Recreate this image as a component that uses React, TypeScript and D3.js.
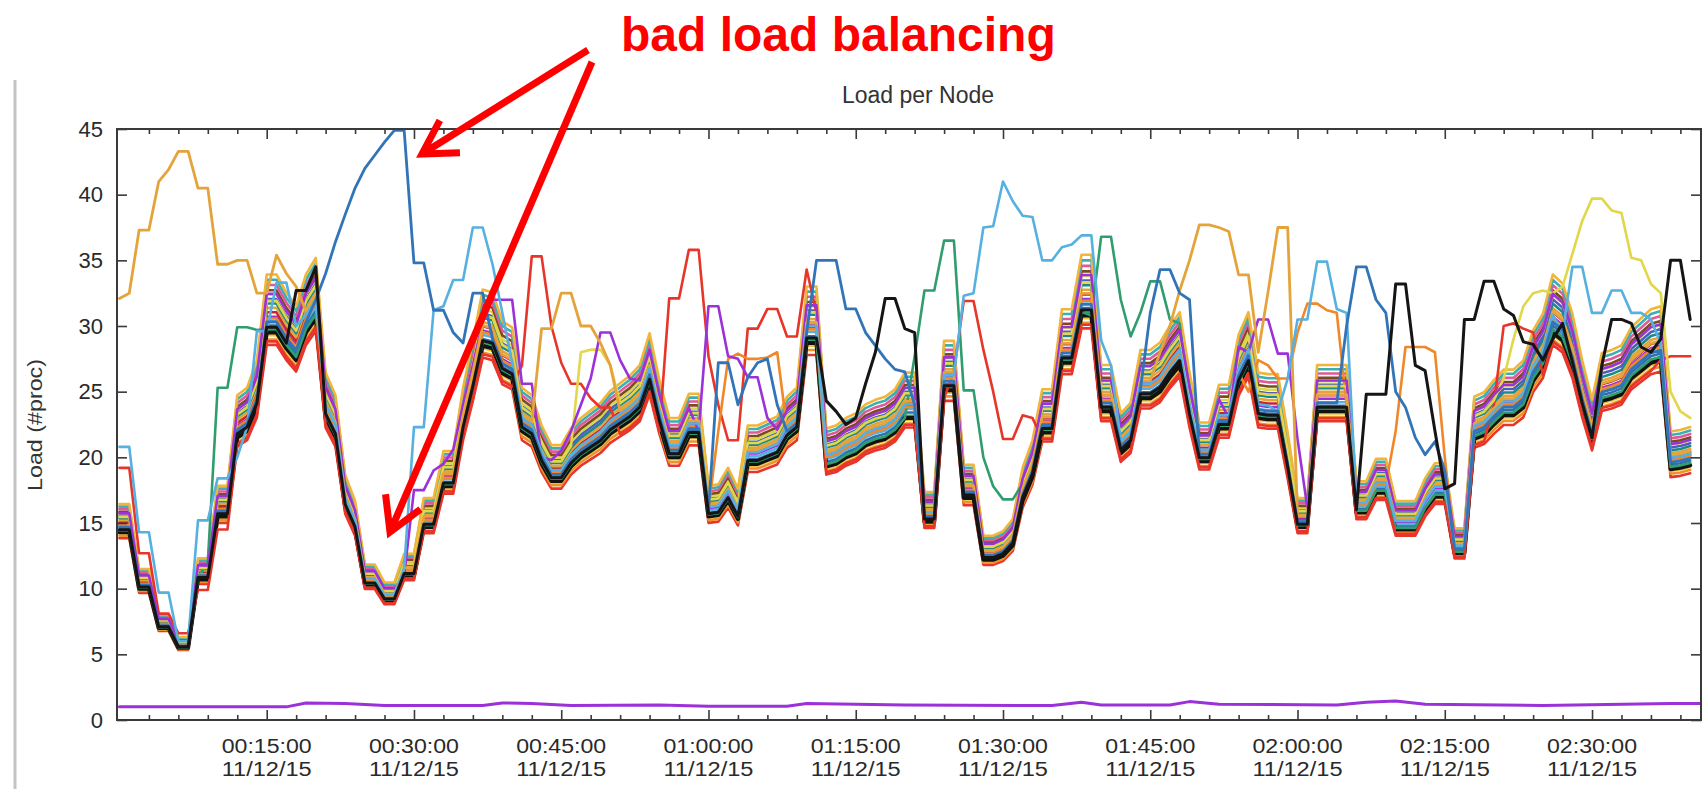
import React, { useEffect, useRef } from 'react'
import * as d3 from 'd3'

const width = 1702
const height = 789
const plot = { left: 117, right: 1701, top: 129, bottom: 720 }
const fontFamily = '"Liberation Sans", Arial, Helvetica, sans-serif'

const startTime = new Date(2015, 10, 12, 0, 0, 0)
const minute = (m: number) => new Date(startTime.getTime() + m * 60000)

// load of the busy bundle (one sample per minute, 00:00 .. 02:40)
const bundleLoad = [
  14.3, 14.3, 10, 10, 7, 7, 5.5, 5.5, 10.7, 10.7,
  15.5, 15.5, 21.5, 22, 23.8, 29.5, 29.5, 28.3, 27.4, 29.5,
  30.6, 23, 21.5, 16.2, 14.5, 10.3, 10.3, 9.1, 9.1, 11,
  11, 14.7, 14.7, 17.8, 17.8, 22, 25.1, 28.5, 28.3, 26.4,
  26, 22, 21.5, 19.5, 18.2, 18.2, 19.3, 20, 20.5, 21,
  21.8, 22.3, 22.8, 23.5, 25.6, 22.5, 20, 20, 21.6, 21.6,
  15.5, 15.6, 16.7, 15.3, 19.5, 19.5, 19.8, 20.1, 21.4, 22,
  28.7, 28.7, 19.3, 19.5, 20, 20.3, 20.9, 21.2, 21.4, 21.9,
  23, 23, 15.1, 15.1, 25.1, 25.1, 16.9, 16.9, 12.2, 12.2,
  12.5, 13.3, 16.7, 18.5, 21.9, 21.9, 27.2, 27.2, 30.8, 30.8,
  23.5, 23.5, 20.3, 21, 24.5, 24.5, 25, 26.1, 27, 23,
  19.7, 19.7, 22.2, 22.2, 25.5, 27, 23, 22.9, 22.9, 19,
  14.7, 14.7, 23.5, 23.5, 23.5, 23.5, 15.8, 15.8, 17.3, 17.3,
  14.5, 14.5, 14.5, 16, 17, 17, 12.7, 12.7, 21.4, 21.7,
  22.5, 23.2, 23.2, 23.8, 25.8, 26.9, 29.5, 28.9, 26.9, 23.8,
  21.2, 24.3, 24.5, 24.8, 26, 26.6, 27.2, 27.4, 19.1, 19.2,
  19.4,
]

// nodes that stay inside the bundle
const clusterColors = [
  '#e8352a', '#f0902a', '#e6c33c', '#2f9d6f', '#2f6fb0', '#56b0e0', '#9b31d8', '#c7262c',
  '#e5a43b', '#1d8a8a', '#4a5fc0', '#d8d84a', '#7c4a1e', '#e05a9a', '#3bb0b0', '#f2b43a',
]
const clusterOffsets = [-0.7, -0.4, -0.15, 0.15, 0.4, 0.65, 0.9, 1.15, 1.4, 1.65, 1.9, 2.15, 2.4, 2.7, 3.0, 3.3]

// nodes that leave the bundle: [start minute, values per minute]
const goldExcursions: [number, number[]][] = [
  [0, [32.1, 32.5, 37.3, 37.3, 41, 41.9, 43.3, 43.3, 40.5, 40.5, 34.7, 34.7, 35, 35, 32.5, 32.5, 35.4, 34, 33]],
  [43, [29.8, 29.8, 32.5, 32.5, 30, 30, 28.7, 27]],
  [106, [28, 30, 32.7, 35, 37.7, 37.7, 37.5, 37.2, 33.9, 33.9, 28, 32.6, 37.5, 37.5, 15.5]],
]
const darkBlueExcursions: [number, number[]][] = [
  [20, [32, 34, 36.4, 38.5, 40.5, 42, 43, 44, 44.9, 44.9, 34.8, 34.8, 31.2, 31.2, 29.5, 28.7, 32.5, 32.5, 29]],
  [61, [27.2, 27.2, 24, 26.1, 27.2, 27.5, 24]],
  [71, [35, 35, 35, 31.3, 31.3, 29.5, 28.5, 27.5, 26.7, 26.5, 24]],
  [105, [31, 34.3, 34.3, 32.5, 32]],
  [125, [30, 34.5, 34.5, 32, 31, 25, 23.8, 21.5, 20.2, 21.2, 19]],
]
const lightBlueExcursions: [number, number[]][] = [
  [0, [20.8, 20.8, 14.3, 14.3, 9.7, 9.7, 6, 6, 15.2, 15.2, 18.4, 18.4, 20, 22.3, 29.6, 29.6, 33.3, 33.3, 30]],
  [29, [11.5, 22.3, 22.3, 31.2, 31.5, 33.5, 33.5, 37.5, 37.5, 34.7, 31]],
  [86, [32.3, 32.5, 37.5, 37.6, 41, 39.5, 38.4, 38.3, 35, 35, 36, 36.2, 36.9, 36.9, 28.9, 27]],
  [118, [23.5, 26, 30.5, 30.5, 34.9, 34.9, 31.3, 31]],
  [147, [29.5, 34.5, 34.5, 31, 31, 32.7, 32.7, 31, 31, 30.5]],
]
const greenExcursions: [number, number[]][] = [
  [9, [12, 25.3, 25.3, 29.9, 29.9, 29.7]],
  [80, [23, 27.7, 32.7, 32.7, 36.5, 36.5, 25.1, 25.1, 20, 17.8, 16.8, 16.8, 18, 20]],
  [99, [30.8, 36.8, 36.8, 32, 29.2, 31, 33.4, 33.4, 30.5, 30.2]],
]
const redExcursions: [number, number[]][] = [
  [0, [19.2, 19.2, 12.7, 12.7, 8.1, 8.1, 6.6, 6.6, 9.9, 9.9, 14.5, 14.5]],
  [41, [27, 35.3, 35.3, 30, 27.2, 25.6, 25.6, 24.5, 23.8, 23.8]],
  [56, [32.1, 32.1, 35.8, 35.8, 27.7, 24, 21.3, 21.3, 29.8, 29.8, 31.3, 31.3, 29.2, 29.2, 34.3, 31]],
  [85, [26.5, 31.9, 31.9, 28.2, 25, 21.4, 21.4, 23.2, 23]],
  [140, [24, 30, 30.2, 29.8, 29.5]],
  [157, [27.4, 27.7, 27.7, 27.7]],
]
const purpleExcursions: [number, number[]][] = [
  [29, [11, 17.5, 17.5, 19, 19.5, 20.6, 24, 27, 30.3, 32, 32, 32, 25.6, 25.6, 20, 19.8, 20.5, 22, 24, 26, 29.5, 29.5, 27.4, 26]],
  [59, [22, 31.5, 31.5, 27.7, 27.5, 26.1, 26.1, 23]],
  [113, [23, 28.4, 28, 30.5, 30.5, 27.9, 27.9, 21.4]],
]
const yellowExcursions: [number, number[]][] = [
  [47, [28, 28.2, 28.2, 27]],
  [141, [26, 29, 31.5, 32.5, 32.7, 32.5, 33, 35.5, 38, 39.7, 39.7, 38.8, 38.6, 35.2, 35, 33.2, 32.5, 25, 23.5, 23]],
]
const thinBlackExcursions: [number, number[]][] = [
  [18, [32.7, 32.7, 34.5]],
  [72, [24.3, 23.5, 22.5, 23, 25.6, 28, 32.1, 32.1, 29.8, 29.5]],
  [127, [24.8, 24.8, 24.8, 33.2, 33.2, 27, 26.6, 22, 17.6, 18, 30.5, 30.5, 33.4, 33.4, 31.3, 30.8, 28.8, 28.6, 27.4, 29, 30.2]],
  [151, [27, 30.5, 30.5, 30.2, 28.4, 28, 29, 35, 35, 30.5]],
]
const orangeExcursions: [number, number[]][] = [
  [61, [22, 27.5, 27.9, 27.5, 27.5, 27.6, 28]],
  [115, [25, 27.4, 27, 26, 26, 29.5, 31.7, 31.7, 31.2, 31, 24]],
  [130, [22, 28.4, 28.4, 28.4, 28, 20]],
]

const outliers = [
  { color: '#2f9d6f', offset: 0.2, width: 2.6, excursions: greenExcursions },
  { color: '#e8352a', offset: -0.5, width: 2.6, excursions: redExcursions },
  { color: '#f0882a', offset: 0.8, width: 2.6, excursions: orangeExcursions },
  { color: '#e2d64a', offset: 1.8, width: 2.6, excursions: yellowExcursions },
  { color: '#9b31d8', offset: 2.2, width: 2.6, excursions: purpleExcursions },
  { color: '#e5a43b', offset: 1.2, width: 2.8, excursions: goldExcursions },
  { color: '#56b0e0', offset: 1.0, width: 2.6, excursions: lightBlueExcursions },
  { color: '#3274b8', offset: 0.6, width: 2.8, excursions: darkBlueExcursions },
  { color: '#151515', offset: 0.3, width: 3, excursions: thinBlackExcursions },
]

// idle node, [minute, load]
const idleNodeLoad: [number, number][] = [
  [0, 1.0], [17, 1.0], [19, 1.3], [23, 1.25], [27, 1.1], [37, 1.1], [39, 1.3], [42, 1.25],
  [46, 1.1], [55, 1.15], [60, 1.05], [68, 1.05], [70, 1.25], [80, 1.15], [95, 1.1], [98, 1.35],
  [100, 1.15], [107, 1.15], [109, 1.4], [112, 1.2], [124, 1.15], [127, 1.35], [130, 1.45],
  [133, 1.2], [145, 1.1], [158, 1.25], [161, 1.25],
]

const yTicks = [0, 5, 10, 15, 20, 25, 30, 35, 40, 45]
const majorMinutes = [15, 30, 45, 60, 75, 90, 105, 120, 135, 150]
const minorMinutes = d3.range(3, 162, 3).filter(m => m % 15 !== 0)

function buildSeries(offset: number, excursions: [number, number[]][]) {
  const vals = bundleLoad.map(v => v + (offset * v) / 22)
  excursions.forEach(([start, values]) => {
    values.forEach((v, k) => {
      vals[start + k] = v
    })
  })
  return vals
}

export default function App() {
  const ref = useRef<SVGSVGElement>(null)

  useEffect(() => {
    const svg = d3.select(ref.current)
    svg.selectAll('*').remove()

    const x = d3.scaleTime().domain([minute(-0.25), minute(161.1)]).range([plot.left, plot.right])
    const y = d3.scaleLinear().domain([0, 45]).range([plot.bottom, plot.top])

    svg.append('rect').attr('width', width).attr('height', height).attr('fill', '#ffffff')
    svg.append('line')
      .attr('x1', 15).attr('x2', 15).attr('y1', 80).attr('y2', height)
      .attr('stroke', '#c4c4c4').attr('stroke-width', 3)

    svg.append('defs').append('clipPath').attr('id', 'plotClip')
      .append('rect')
      .attr('x', plot.left).attr('y', plot.top - 4)
      .attr('width', plot.right - plot.left).attr('height', plot.bottom - plot.top + 4)

    const lines = svg.append('g').attr('clip-path', 'url(#plotClip)')
      .attr('fill', 'none').attr('stroke-linejoin', 'round').attr('stroke-linecap', 'round')

    const line = d3.line<number>()
      .x((d, i) => x(minute(i)))
      .y(d => y(d))

    clusterColors.forEach((c, i) => {
      lines.append('path')
        .attr('d', line(buildSeries(clusterOffsets[i], [])))
        .attr('stroke', c).attr('stroke-width', 2.6)
    })

    // thick black node at the bottom of the bundle
    lines.append('path')
      .attr('d', line(bundleLoad))
      .attr('stroke', '#111').attr('stroke-width', 4)

    outliers.forEach(o => {
      lines.append('path')
        .attr('d', line(buildSeries(o.offset, o.excursions)))
        .attr('stroke', o.color).attr('stroke-width', o.width)
    })

    const idleLine = d3.line<[number, number]>()
      .x(d => x(minute(d[0])))
      .y(d => y(d[1]))
    lines.append('path')
      .attr('d', idleLine(idleNodeLoad))
      .attr('stroke', '#9b31d8').attr('stroke-width', 3)

    // frame
    svg.append('rect')
      .attr('x', plot.left).attr('y', plot.top)
      .attr('width', plot.right - plot.left).attr('height', plot.bottom - plot.top)
      .attr('fill', 'none').attr('stroke', '#3a3a3a').attr('stroke-width', 2)

    const tickColor = '#3a3a3a'
    const styleAxis = (g: any) => {
      g.select('.domain').remove()
      g.selectAll('line').attr('stroke', tickColor).attr('stroke-width', 1.6)
    }

    // y axes
    const yAxisLeft = svg.append('g').attr('transform', `translate(${plot.left},0)`)
      .call(d3.axisLeft(y).tickValues(yTicks).tickSize(-10).tickPadding(14))
    styleAxis(yAxisLeft)
    yAxisLeft.selectAll('text')
      .attr('font-family', fontFamily).attr('font-size', 22).attr('fill', '#2a2a2a')

    const yAxisRight = svg.append('g').attr('transform', `translate(${plot.right},0)`)
      .call(d3.axisRight(y).tickValues(yTicks).tickSize(-10).tickFormat(() => ''))
    styleAxis(yAxisRight)

    // x axes, major and minor ticks on bottom and top
    const majorDates = majorMinutes.map(minute)
    const minorDates = minorMinutes.map(minute)
    const xb = svg.append('g').attr('transform', `translate(0,${plot.bottom})`)
      .call(d3.axisBottom(x).tickValues(majorDates).tickSize(-10).tickFormat(() => ''))
    styleAxis(xb)
    const xbm = svg.append('g').attr('transform', `translate(0,${plot.bottom})`)
      .call(d3.axisBottom(x).tickValues(minorDates).tickSize(-5).tickFormat(() => ''))
    styleAxis(xbm)
    const xt = svg.append('g').attr('transform', `translate(0,${plot.top})`)
      .call(d3.axisTop(x).tickValues(majorDates).tickSize(-10).tickFormat(() => ''))
    styleAxis(xt)
    const xtm = svg.append('g').attr('transform', `translate(0,${plot.top})`)
      .call(d3.axisTop(x).tickValues(minorDates).tickSize(-5).tickFormat(() => ''))
    styleAxis(xtm)

    const fmtTime = d3.timeFormat('%H:%M:%S')
    const fmtDate = d3.timeFormat('%m/%d/%y')
    const labels = svg.append('g')
      .attr('font-family', fontFamily).attr('font-size', 20).attr('fill', '#2a2a2a')
      .attr('text-anchor', 'middle')
    majorDates.forEach(d => {
      labels.append('text').attr('x', x(d)).attr('y', 753)
        .attr('textLength', 90).attr('lengthAdjust', 'spacingAndGlyphs')
        .text(fmtTime(d))
      labels.append('text').attr('x', x(d)).attr('y', 776)
        .attr('textLength', 90).attr('lengthAdjust', 'spacingAndGlyphs')
        .text(fmtDate(d))
    })

    // titles
    svg.append('text')
      .attr('x', 918).attr('y', 103).attr('text-anchor', 'middle')
      .attr('font-family', fontFamily).attr('font-size', 23).attr('fill', '#333')
      .text('Load per Node')

    svg.append('text')
      .attr('transform', 'translate(42,425) rotate(-90)')
      .attr('text-anchor', 'middle')
      .attr('font-family', fontFamily).attr('font-size', 21).attr('fill', '#333')
      .attr('textLength', 132).attr('lengthAdjust', 'spacingAndGlyphs')
      .text('Load (#proc)')

    // annotation
    svg.append('text')
      .attr('x', 621).attr('y', 51)
      .attr('font-family', fontFamily).attr('font-weight', 'bold').attr('font-size', 48)
      .attr('fill', '#ff0000')
      .text('bad load balancing')

    const arrows = [
      { from: [588, 50], to: [422, 154] },
      { from: [592, 62], to: [390, 532] },
    ]
    const ann = svg.append('g').attr('stroke', '#ff0000').attr('stroke-width', 7).attr('fill', 'none')
    arrows.forEach(a => {
      const [x1, y1] = a.from
      const [x2, y2] = a.to
      const len = Math.hypot(x2 - x1, y2 - y1)
      const ux = (x2 - x1) / len
      const uy = (y2 - y1) / len
      const wing = 38
      const ang = Math.PI / 6
      const w1 = [x2 - wing * (ux * Math.cos(ang) - uy * Math.sin(ang)), y2 - wing * (ux * Math.sin(ang) + uy * Math.cos(ang))]
      const w2 = [x2 - wing * (ux * Math.cos(-ang) - uy * Math.sin(-ang)), y2 - wing * (ux * Math.sin(-ang) + uy * Math.cos(-ang))]
      ann.append('line').attr('x1', x1).attr('y1', y1).attr('x2', x2).attr('y2', y2)
      ann.append('path')
        .attr('d', `M${w1[0]},${w1[1]}L${x2},${y2}L${w2[0]},${w2[1]}`)
        .attr('stroke-linejoin', 'miter')
    })
  }, [])

  return (
    <svg
      ref={ref}
      width={width}
      height={height}
      style={{ position: 'absolute', left: 0, top: 0, display: 'block' }}
    />
  )
}
